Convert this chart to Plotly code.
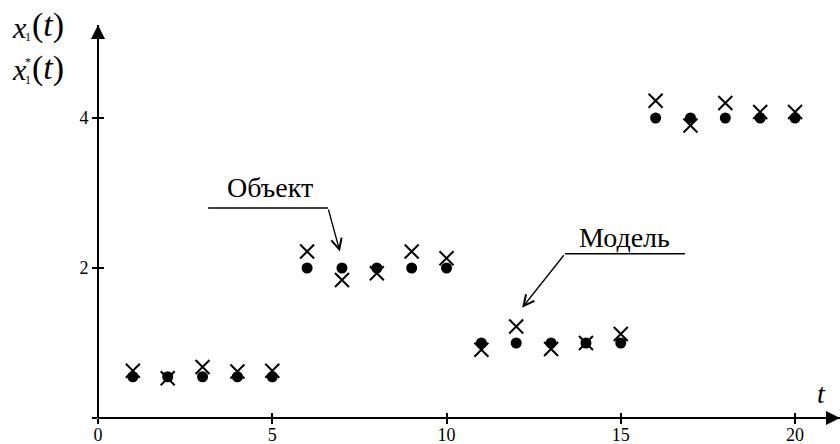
import plotly.graph_objects as go

# time steps and the two responses
t = [1, 2, 3, 4, 5, 6, 7, 8, 9, 10, 11, 12, 13, 14, 15, 16, 17, 18, 19, 20]
obj = [0.55, 0.55, 0.55, 0.55, 0.55, 2.0, 2.0, 2.0, 2.0, 2.0,
       1.0, 1.0, 1.0, 1.0, 1.0, 4.0, 4.0, 4.0, 4.0, 4.0]
model = [0.63, 0.53, 0.68, 0.62, 0.63, 2.22, 1.84, 1.93, 2.22, 2.13,
         0.91, 1.22, 0.92, 1.0, 1.12, 4.23, 3.9, 4.2, 4.08, 4.08]

x_ticks = [0, 5, 10, 15, 20]
x_tick_text = ["0", "5", "10", "15", "20"]
y_ticks = [0, 2, 4]
y_tick_text = ["", "2", "4"]

W, H = 840, 444
X_MAX = 21.29
Y_MAX = 5.24
x_dom = [98 / W, 1.0]
y_dom = [(H - 418) / H, (H - 25) / H]

serif = "Liberation Serif, Times New Roman, serif"

fig = go.Figure()
fig.add_trace(go.Scatter(
    x=t, y=obj, mode="markers", name="Объект",
    marker=dict(symbol="circle", size=11, color="black"),
    cliponaxis=False, showlegend=False,
))
fig.add_trace(go.Scatter(
    x=t, y=model, mode="markers", name="Модель",
    marker=dict(symbol="x-thin", size=14, color="black",
                line=dict(color="black", width=2)),
    cliponaxis=False, showlegend=False,
))
# empty traces carrying the tick marks that cross the axes
fig.add_trace(go.Scatter(x=[], y=[], xaxis="x2", yaxis="y2", showlegend=False))
fig.add_trace(go.Scatter(x=[], y=[], xaxis="x3", yaxis="y2", showlegend=False))

axis_common = dict(showgrid=False, zeroline=False, color="black", automargin=False)
tick_font = dict(family=serif, size=18, color="black")
tick_marks = dict(ticklen=5, tickwidth=2, tickcolor="black")
x_base = dict(**axis_common, domain=x_dom, range=[0, X_MAX], anchor="free",
              position=y_dom[0], tickmode="array", tickvals=x_ticks)
y_base = dict(**axis_common, domain=y_dom, range=[0, Y_MAX], anchor="free",
              position=x_dom[0], tickmode="array", tickvals=y_ticks)

fig.update_layout(
    width=W, height=H,
    margin=dict(l=0, r=0, t=0, b=0, autoexpand=False),
    paper_bgcolor="white", plot_bgcolor="white",
    font=dict(family=serif, color="black"),
    xaxis=dict(**x_base, showline=True, linewidth=2, linecolor="black",
               ticktext=x_tick_text, ticks="", tickfont=tick_font),
    yaxis=dict(**y_base, **tick_marks, showline=True, linewidth=2,
               linecolor="black", ticktext=y_tick_text, ticks="outside",
               tickfont=tick_font),
    xaxis2=dict(**x_base, **tick_marks, overlaying="x", showline=False,
                showticklabels=False, ticks="inside"),
    xaxis3=dict(**x_base, **tick_marks, overlaying="x", showline=False,
                showticklabels=False, ticks="outside"),
    yaxis2=dict(**y_base, **tick_marks, overlaying="y", showline=False,
                showticklabels=False, ticks="inside"),
)

# axis arrowheads
fig.add_annotation(x=X_MAX, y=0, xref="x", yref="y", ax=-16, ay=0,
                   showarrow=True, arrowhead=2, arrowsize=1.4, arrowwidth=2,
                   arrowcolor="black", text="")
fig.add_annotation(x=0, y=Y_MAX, xref="x", yref="y", ax=0, ay=16,
                   showarrow=True, arrowhead=2, arrowsize=1.4, arrowwidth=2,
                   arrowcolor="black", text="")


def label(px, py, text, size, anchor="center"):
    fig.add_annotation(x=px / W, y=1 - py / H, xref="paper", yref="paper",
                       xanchor=anchor, yanchor="middle", showarrow=False,
                       text=text, font=dict(family=serif, size=size, color="black"))


# axis titles: x1(t) and x1*(t)
for row_y, star in ((27, False), (70, True)):
    label(19, row_y, "<i>x</i>", 30)
    label(28, row_y + 10, "1", 12)
    if star:
        label(28, row_y - 8, "*", 12)
    label(30, row_y - 2, "(<i>t</i>)", 34, anchor="left")
label(821, 393, "<i>t</i>", 28)

# callout: object
fig.add_annotation(x=4.94, y=3.07, xref="x", yref="y", showarrow=False,
                   text="Объект", font=dict(family=serif, size=28, color="black"))
fig.add_shape(type="line", xref="x", yref="y", x0=3.16, y0=2.8, x1=6.6, y1=2.8,
              line=dict(color="black", width=1.5))
fig.add_annotation(x=6.94, y=2.22, xref="x", yref="y", axref="x", ayref="y",
                   ax=6.6, ay=2.8, showarrow=True, arrowhead=5, arrowsize=1.6,
                   arrowwidth=1.3, arrowcolor="black", text="")

# callout: model
fig.add_annotation(x=15.1, y=2.41, xref="x", yref="y", showarrow=False,
                   text="Модель", font=dict(family=serif, size=28, color="black"))
fig.add_shape(type="line", xref="x", yref="y", x0=13.4, y0=2.19, x1=16.84, y1=2.19,
              line=dict(color="black", width=1.5))
fig.add_annotation(x=12.17, y=1.47, xref="x", yref="y", axref="x", ayref="y",
                   ax=13.4, ay=2.19, showarrow=True, arrowhead=5, arrowsize=1.6,
                   arrowwidth=1.3, arrowcolor="black", text="")

fig.write_html("out.html")
